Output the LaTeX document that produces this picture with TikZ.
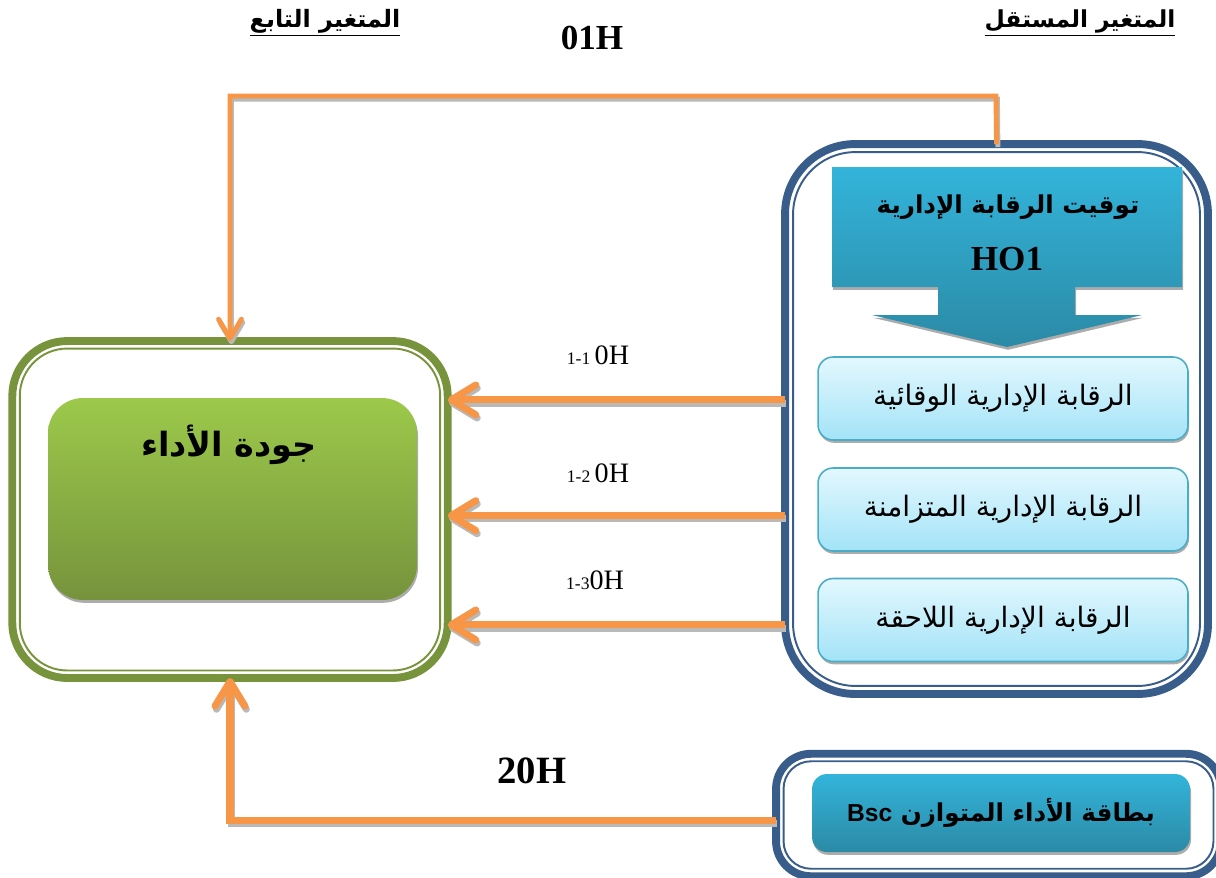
\documentclass[tikz,border=0pt]{standalone}
\usepackage{fontspec}
\setmainfont{Liberation Serif}
\newfontfamily\arabicfont[Script=Arabic]{DejaVu Sans}
\newfontfamily\arialfont{Liberation Sans}
\TeXXeTstate=1
\usetikzlibrary{positioning}
\usetikzlibrary{calc}
\usetikzlibrary{shadows}
\usetikzlibrary{arrows.meta}

\definecolor{frameGreen}{HTML}{77933C}
\definecolor{frameBlue}{HTML}{385D8A}
\definecolor{linkOrange}{HTML}{F79646}
\definecolor{qualTop}{HTML}{9CC94B}
\definecolor{qualBot}{HTML}{76933C}
\definecolor{cyanTop}{HTML}{33B4DA}
\definecolor{cyanBot}{HTML}{2B8AA6}
\definecolor{paleTop}{HTML}{E3F8FE}
\definecolor{paleBot}{HTML}{A3E3F7}
\definecolor{paleLine}{HTML}{4BACC6}

\newcommand{\artext}[1]{{\arabicfont\beginR #1\endR}}

\tikzset{
    softshadow/.style={drop shadow={shadow xshift=0.6pt, shadow yshift=-1.6pt, fill=gray!65, opacity=1}},
    frameL/.style={draw=frameGreen, line width=4.5pt, outer sep=0pt, rounded corners=1.1cm, minimum width=8.71cm, minimum height=6.74cm},
    frameR/.style={draw=frameBlue, line width=4.5pt, outer sep=0pt, rounded corners=1.4cm, minimum width=8.46cm, minimum height=11cm},
    frameB/.style={draw=frameBlue, line width=4.5pt, outer sep=0pt, rounded corners=0.7cm, minimum width=8.9cm, minimum height=2.45cm},
    ctrlbox/.style={rounded corners=0.3cm, draw=paleLine, line width=0.9pt, top color=paleTop, bottom color=paleBot, minimum width=7.4cm, minimum height=1.66cm, softshadow, font=\fontsize{16}{18}\selectfont},
    link/.style={draw=linkOrange, line width=4pt, -{Straight Barb[length=14pt,width=17pt,round]}},
    thinlink/.style={draw=linkOrange, line width=2.8pt, -{Straight Barb[length=11pt,width=13pt,round]}},
    linkshade/.style={draw=gray!55, transform canvas={shift={(0.8pt,-1.8pt)}}}
}

\begin{document}
\begin{tikzpicture}[x=0.02cm, y=-0.02cm]
        \useasboundingbox (0,0) rectangle (1216,877);
        \clip (0,0) rectangle (1216,877);

        % column titles
        \node[font=\bfseries\fontsize{13.6}{15}\selectfont] (dephead) at (325,23) {\underline{\artext{المتغير التابع}}};
        \node[font=\bfseries\fontsize{13.3}{15}\selectfont] (indhead) at (1080,23) {\underline{\artext{المتغير المستقل}}};
        \node[font=\bfseries\fontsize{20}{22}\selectfont] (hmain) at (592,38) {01H};

        % dependent variable
        \node[frameL] (leftframe) at (230,509.5) {};
        \draw[draw=frameGreen, line width=1.1pt, rounded corners=0.95cm] ([shift={(0.15cm,0.15cm)}]leftframe.south west) rectangle ([shift={(-0.15cm,-0.15cm)}]leftframe.north east);
        \node[rounded corners=0.7cm, top color=qualTop, bottom color=qualBot, minimum width=7.38cm, minimum height=4.04cm, softshadow] (quality) at (232.5,499) {};
        \node[font=\bfseries\fontsize{19}{21}\selectfont] (qualtext) at (229,445) {\artext{جودة الأداء}};

        % independent variable
        \node[frameR] (rightframe) at (996.5,419) {};
        \draw[draw=frameBlue, line width=1.1pt, rounded corners=1.25cm] ([shift={(0.16cm,0.16cm)}]rightframe.south west) rectangle ([shift={(-0.16cm,-0.16cm)}]rightframe.north east);
        \path[top color=cyanTop, bottom color=cyanBot, softshadow] (832,167) -- (1182,167) -- (1182,287) -- (1075,287) -- (1075,315) -- (1142,315) -- (1007,347) -- (872,315) -- (938,315) -- (938,287) -- (832,287) -- cycle;
        \node[font=\bfseries\fontsize{14}{16}\selectfont] (timing) at (1008,207) {\artext{توقيت الرقابة الإدارية}};
        \node[font=\bfseries\fontsize{20}{22}\selectfont] (hone) at (1007,259) {HO1};

        % the three kinds of control
        \foreach \nm/\y/\txt in {pre/398.5/الرقابة الإدارية الوقائية, con/509.5/الرقابة الإدارية المتزامنة, post/620/الرقابة الإدارية اللاحقة} {
            \node[ctrlbox] (\nm) at (1003,\y) {\artext{\txt}};
        }

        % sub-hypotheses
        \foreach \nm/\dy in {pre/-0.8pt, con/-3.5pt, post/-2.8pt} {
            \draw[link, linkshade] ([yshift=\dy]\nm.center -| rightframe.west) -- ([yshift=\dy]\nm.center -| leftframe.east);
            \draw[link] ([yshift=\dy]\nm.center -| rightframe.west) -- ([yshift=\dy]\nm.center -| leftframe.east);
        }
        \node (hpre) at (598,355) {\fontsize{10}{12}\selectfont 1-1 \fontsize{16}{18}\selectfont 0H};
        \node (hcon) at (598,473) {\fontsize{10}{12}\selectfont 1-2 \fontsize{16}{18}\selectfont 0H};
        \node (hpost) at (595,580) {\fontsize{10}{12}\selectfont 1-3\fontsize{16}{18}\selectfont 0H};

        % main hypothesis
        \coordinate (topbend) at (996,96);
        \draw[thinlink, linkshade] (rightframe.north) -- (topbend) -| (leftframe.north);
        \draw[thinlink] (rightframe.north) -- (topbend) -| (leftframe.north);

        % balanced scorecard
        \node[frameB] (bscframe) at (998.5,815) {};
        \draw[draw=frameBlue, line width=1.1pt, rounded corners=0.55cm] ([shift={(0.15cm,0.15cm)}]bscframe.south west) rectangle ([shift={(-0.15cm,-0.15cm)}]bscframe.north east);
        \node[rounded corners=0.3cm, top color=cyanTop, bottom color=cyanBot, minimum width=7.56cm, minimum height=1.56cm, softshadow, font=\bfseries\fontsize{14}{16}\selectfont] (bsc) at (1001,813) {\artext{بطاقة الأداء المتوازن {\arialfont Bsc}}};
        \draw[link, linkshade] ([yshift=-3pt]bscframe.west) -| (leftframe.south);
        \draw[link] ([yshift=-3pt]bscframe.west) -| (leftframe.south);
        \node[font=\bfseries\fontsize{22}{24}\selectfont] (htwo) at (532,771) {20H};

    \end{tikzpicture}
\end{document}
